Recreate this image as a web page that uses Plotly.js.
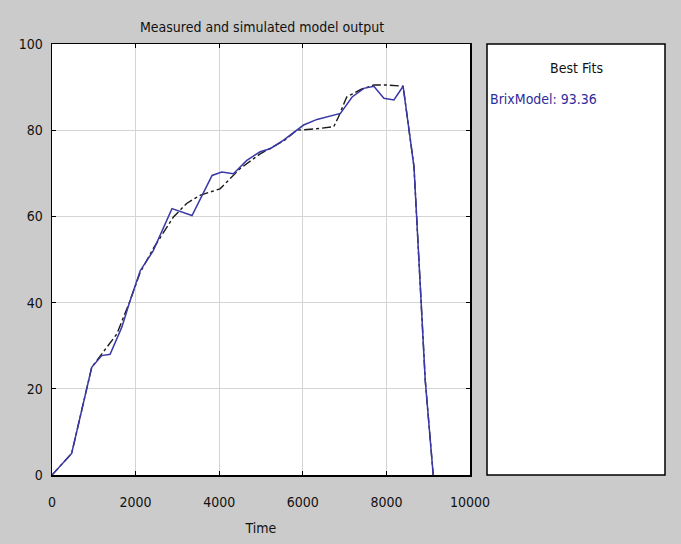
<!DOCTYPE html>
<html>
<head>
<meta charset="utf-8">
<script src="https://cdn.plot.ly/plotly-3.0.1.min.js"></script>
<style>html,body{margin:0;padding:0;background:#cbcbcb;}#chart{width:681px;height:544px;}</style>
</head>
<body>
<div id="chart"></div>
<script>
// Measured output (blue solid)
const measuredTime = [0, 470, 950, 1190, 1390, 1670, 1870, 2110, 2420, 2870, 3350, 3830, 4060, 4340, 4660, 4980, 5220, 5540, 6020, 6340, 6900, 7180, 7460, 7700, 7940, 8180, 8400, 8660, 8930, 9120];
const measuredValues = [0, 5, 25, 27.7, 28, 34.3, 40.5, 47.4, 52, 61.8, 60.2, 69.5, 70.3, 69.9, 73, 75, 75.7, 77.7, 81.2, 82.5, 83.9, 87.7, 89.7, 90.2, 87.4, 87, 90.2, 71.5, 21.9, 0];
// Simulated model output (black dash-dot)
const simTime = [0, 470, 950, 1190, 1310, 1550, 1870, 2110, 2420, 2900, 3220, 3540, 4020, 4500, 4980, 5540, 5860, 6300, 6740, 6850, 7050, 7400, 7700, 8000, 8400, 8660, 8930, 9120];
const simValues = [0, 5, 25, 28, 29.6, 32.7, 40.5, 47, 52.5, 59.8, 63, 64.9, 66.4, 71.1, 74.5, 77.5, 80, 80.3, 80.8, 83, 87.7, 89.5, 90.5, 90.5, 90.2, 71.5, 21.9, 0];
const xTicks = [0, 2000, 4000, 6000, 8000, 10000];
const yTicks = [0, 20, 40, 60, 80, 100];
const titleText = 'Measured and simulated model output';
const xLabel = 'Time';
const panelTitle = 'Best Fits';
const fitLabel = 'BrixModel: 93.36';

const FONT = '"DejaVu Sans Condensed", "Liberation Sans Narrow", "Liberation Sans", Arial, sans-serif';

const traces = [
  {x: simTime, y: simValues, type: 'scatter', mode: 'lines',
   line: {color: '#1a1a1a', width: 1.4, dash: 'dashdot'}, hoverinfo: 'skip'},
  {x: measuredTime, y: measuredValues, type: 'scatter', mode: 'lines',
   line: {color: '#3a38a6', width: 1.5}, hoverinfo: 'skip'}
];

const mainRight = (470 - 52) / 613;
const panelLeft = (487 - 52) / 613;

const layout = {
  width: 681, height: 544,
  paper_bgcolor: '#cbcbcb', plot_bgcolor: '#ffffff',
  margin: {l: 52, r: 16, t: 44, b: 69},
  showlegend: false,
  font: {family: FONT, size: 14, color: '#111111'},
  title: {text: titleText, x: 262 / 681, xanchor: 'center', y: 1 - 27 / 544, yanchor: 'middle',
          font: {family: FONT, size: 14, color: '#111111'}},
  xaxis: {domain: [0, mainRight], range: [0, 10000], tickvals: xTicks, ticktext: xTicks.map(String),
          showgrid: true, gridcolor: '#d4d4d4', gridwidth: 1, zeroline: false,
          showline: true, linecolor: '#000000', linewidth: 1.5, mirror: 'ticks',
          ticks: 'inside', ticklen: 4, tickcolor: '#000000', ticklabelstandoff: 14,
          tickfont: {family: FONT, size: 14, color: '#111111'},
          title: {text: xLabel, font: {family: FONT, size: 14, color: '#111111'}, standoff: 14}},
  yaxis: {range: [0, 100], tickvals: yTicks, ticktext: yTicks.map(String),
          showgrid: true, gridcolor: '#d4d4d4', gridwidth: 1, zeroline: false,
          showline: true, linecolor: '#000000', linewidth: 1.5, mirror: 'ticks',
          ticks: 'inside', ticklen: 4, tickcolor: '#000000', ticklabelstandoff: 5,
          tickfont: {family: FONT, size: 14, color: '#111111'}},
  shapes: [
    {type: 'rect', xref: 'paper', yref: 'paper', x0: panelLeft, x1: 1, y0: 0, y1: 1,
     fillcolor: '#ffffff', line: {color: '#000000', width: 1.5}, layer: 'below'}
  ],
  annotations: [
    {xref: 'paper', yref: 'paper', x: (panelLeft + 1) / 2, y: 1 - (68 - 44) / 431, xanchor: 'center', yanchor: 'middle',
     text: panelTitle, showarrow: false, font: {family: FONT, size: 14, color: '#111111'}},
    {xref: 'paper', yref: 'paper', x: panelLeft + 1 / 613, y: 1 - (99 - 44) / 431, xanchor: 'left', yanchor: 'middle',
     text: fitLabel, showarrow: false, font: {family: FONT, size: 14, color: '#2e2c9c'}}
  ]
};

Plotly.newPlot('chart', traces, layout, {staticPlot: true, displayModeBar: false});
</script>
</body>
</html>
